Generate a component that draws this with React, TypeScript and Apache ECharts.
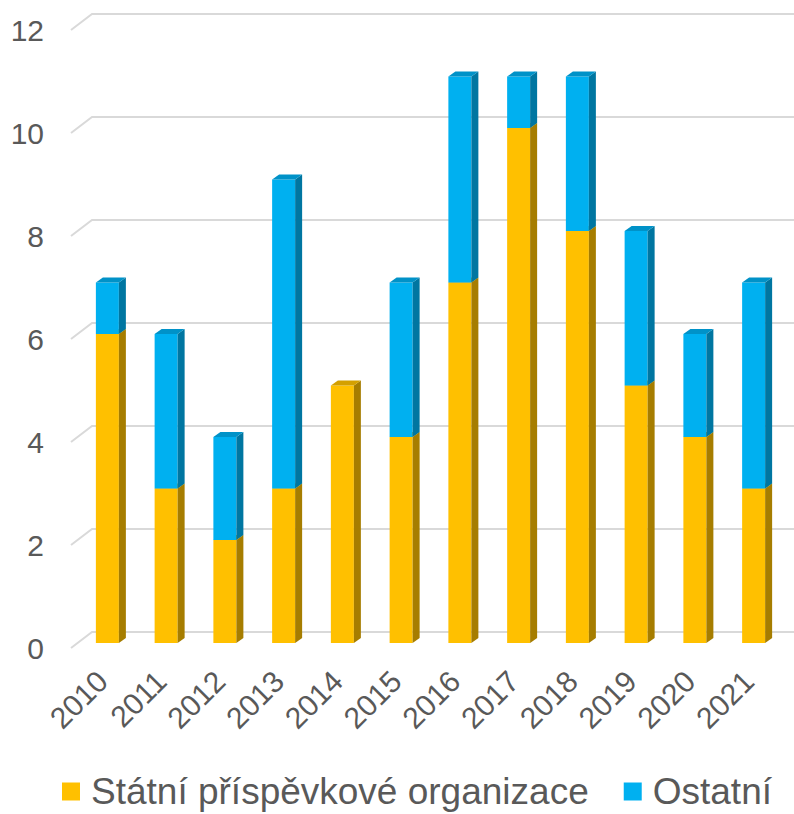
import React, { useEffect, useRef } from "react";
import * as echarts from "echarts";

const years = ["2010", "2011", "2012", "2013", "2014", "2015", "2016", "2017", "2018", "2019", "2020", "2021"];
const statni = [6, 3, 2, 3, 5, 4, 7, 10, 8, 5, 4, 3];
const ostatni = [1, 3, 2, 6, 0, 3, 4, 1, 3, 3, 2, 4];
const yTicks = [0, 2, 4, 6, 8, 10, 12];
const seriesNames = ["Státní příspěvkové organizace", "Ostatní"];

const FONT = "'Liberation Sans', Arial, sans-serif";

const palette = [
  { front: "#FFC000", side: "#A67D00", top: "#D4A000" },
  { front: "#00B0F0", side: "#0076A1", top: "#0092C8" },
];

function makeBarRender(colors: { front: string; side: string; top: string }) {
  return (params: any, api: any) => {
    const i = api.value(0);
    const v = api.value(1);
    const base = api.value(2);
    if (!v) return null;
    const p0 = api.coord([i, base]);
    const p1 = api.coord([i, base + v]);
    const w = 23;
    const dx = 7;
    const dy = -5;
    const fl = p0[0] - 4 - w / 2;
    const fr = fl + w;
    const yb = p0[1];
    const yt = p1[1];
    return {
      type: "group",
      children: [
        { type: "rect", shape: { x: fl, y: yt, width: w, height: yb - yt }, style: { fill: colors.front } },
        {
          type: "polygon",
          shape: { points: [[fr, yb], [fr + dx, yb + dy], [fr + dx, yt + dy], [fr, yt]] },
          style: { fill: colors.side },
        },
        {
          type: "polygon",
          shape: { points: [[fl, yt], [fl + dx, yt + dy], [fr + dx, yt + dy], [fr, yt]] },
          style: { fill: colors.top },
        },
      ],
    };
  };
}

export default function App() {
  const ref = useRef<HTMLDivElement>(null);
  useEffect(() => {
    if (!ref.current) return;
    const chart = echarts.init(ref.current, undefined, { renderer: "svg" });
    const statniData = statni.map((v, i) => [i, v, 0]);
    const ostatniData = ostatni.map((v, i) => [i, v, statni[i]]);
    chart.setOption({
      animation: false,
      backgroundColor: "#ffffff",
      grid: { left: 82, right: 7, top: 25, bottom: 171, containLabel: false },
      legend: {
        data: seriesNames,
        left: 62,
        top: 773,
        padding: 0,
        icon: "rect",
        itemWidth: 18,
        itemHeight: 18,
        itemGap: 35,
        textStyle: { fontFamily: FONT, fontSize: 37, color: "#595959", padding: [0, 0, 0, 6] },
      },
      xAxis: {
        type: "category",
        data: years,
        axisLine: { show: false },
        axisTick: { show: false },
        axisLabel: { show: false },
      },
      yAxis: {
        type: "value",
        min: 0,
        max: 12,
        interval: 2,
        axisLine: { show: false },
        axisTick: { show: false },
        splitLine: { show: false },
        axisLabel: { show: false },
      },
      series: [
        {
          type: "custom",
          name: "grid",
          silent: true,
          z: 1,
          data: yTicks.map((v) => [0, v]),
          encode: { x: 0, y: 1 },
          renderItem: (params: any, api: any) => {
            const val = api.value(1);
            const p = api.coord([0, val]);
            const band = api.size([1, 0])[0];
            const left = p[0] - band / 2;
            const y = p[1];
            return {
              type: "group",
              children: [
                {
                  type: "polyline",
                  shape: { points: [[left - 11, y + 5], [left + 10, y - 11], [api.getWidth(), y - 11]] },
                  style: { stroke: "#D9D9D9", lineWidth: 2, fill: null },
                },
                {
                  type: "text",
                  x: left - 38,
                  y: y + 5,
                  style: {
                    text: String(val),
                    fontFamily: FONT,
                    fontSize: 30,
                    fill: "#595959",
                    align: "right",
                    verticalAlign: "middle",
                  },
                },
              ],
            };
          },
        },
        {
          type: "custom",
          name: "xlabels",
          silent: true,
          z: 1,
          data: years.map((y, i) => [i, 0]),
          encode: { x: 0, y: 1 },
          renderItem: (params: any, api: any) => {
            const i = api.value(0);
            const p = api.coord([i, 0]);
            return {
              type: "text",
              x: p[0] - 9,
              y: p[1] + 33,
              rotation: Math.PI / 4,
              style: {
                text: years[i],
                fontFamily: FONT,
                fontSize: 30,
                fill: "#595959",
                align: "right",
                verticalAlign: "middle",
              },
            };
          },
        },
        {
          type: "custom",
          name: seriesNames[0],
          z: 2,
          itemStyle: { color: palette[0].front },
          data: statniData,
          encode: { x: 0, y: 1 },
          renderItem: makeBarRender(palette[0]),
        },
        {
          type: "custom",
          name: seriesNames[1],
          z: 3,
          itemStyle: { color: palette[1].front },
          data: ostatniData,
          encode: { x: 0, y: 1 },
          renderItem: makeBarRender(palette[1]),
        },
      ],
    });
    return () => chart.dispose();
  }, []);
  return <div ref={ref} style={{ position: "absolute", left: 0, top: 0, width: 794, height: 814 }} />;
}
